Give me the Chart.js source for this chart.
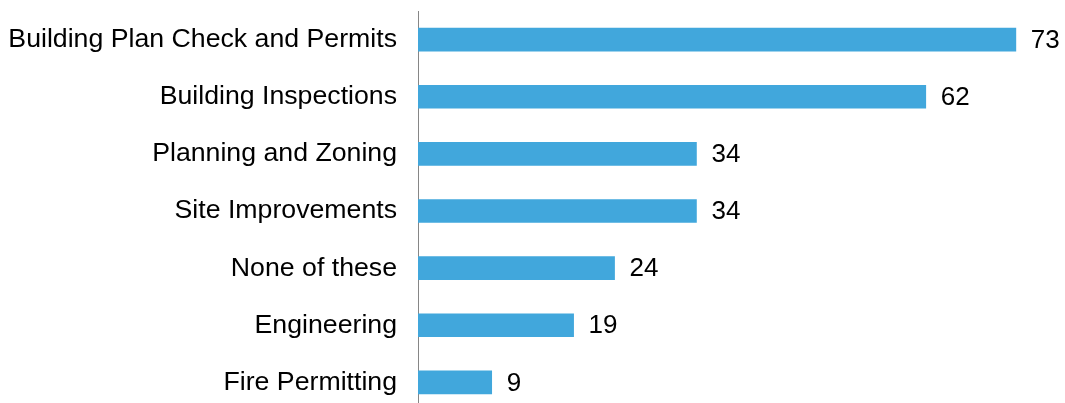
<!DOCTYPE html>
<html>
<head>
<meta charset="utf-8">
<script src="https://cdn.jsdelivr.net/npm/chart.js@4/dist/chart.umd.min.js"></script>
<style>
  html, body { margin: 0; padding: 0; background: #fff; overflow: hidden; }
  canvas { display: block; }
</style>
</head>
<body>
<canvas id="chart" width="1065" height="411"></canvas>
<script>
// chart data
var categories = [
    'Building Plan Check and Permits',
    'Building Inspections',
    'Planning and Zoning',
    'Site Improvements',
    'None of these',
    'Engineering',
    'Fire Permitting'
];
var values = [73, 62, 34, 34, 24, 19, 9];

var FONT = '"Liberation Sans", Arial, sans-serif';

// draws the value next to each bar
var valueLabels = {
    id: 'valueLabels',
    afterDatasetsDraw: function (chart) {
        var ctx = chart.ctx;
        var meta = chart.getDatasetMeta(0);
        ctx.save();
        ctx.font = '26px ' + FONT;
        ctx.fillStyle = '#000';
        ctx.textAlign = 'left';
        ctx.textBaseline = 'middle';
        meta.data.forEach(function (bar, i) {
            ctx.fillText(String(values[i]), bar.x + 15, bar.y + 1);
        });
        ctx.restore();
    }
};

new Chart(document.getElementById('chart'), {
    type: 'bar',
    data: {
        labels: categories,
        datasets: [{
            data: values,
            backgroundColor: '#41A7DC',
            barThickness: 23,
            borderWidth: 0
        }]
    },
    options: {
        indexAxis: 'y',
        responsive: false,
        animation: false,
        devicePixelRatio: 1,
        layout: { padding: { top: 11, right: 0, bottom: 0, left: 0 } },
        plugins: {
            legend: { display: false },
            tooltip: { enabled: false }
        },
        scales: {
            x: {
                min: 0,
                max: 79,
                display: false,
                grid: { display: false }
            },
            y: {
                afterFit: function (scale) {
                    scale.width = 418;
                    scale.paddingTop = 0;
                    scale.paddingBottom = 0;
                },
                grid: { display: false, drawTicks: false },
                border: { display: true, color: '#868686', width: 1 },
                ticks: {
                    color: '#000',
                    padding: 21,
                    autoSkip: false,
                    font: { family: FONT, size: 26.7 }
                }
            }
        }
    },
    plugins: [valueLabels]
});
</script>
</body>
</html>
